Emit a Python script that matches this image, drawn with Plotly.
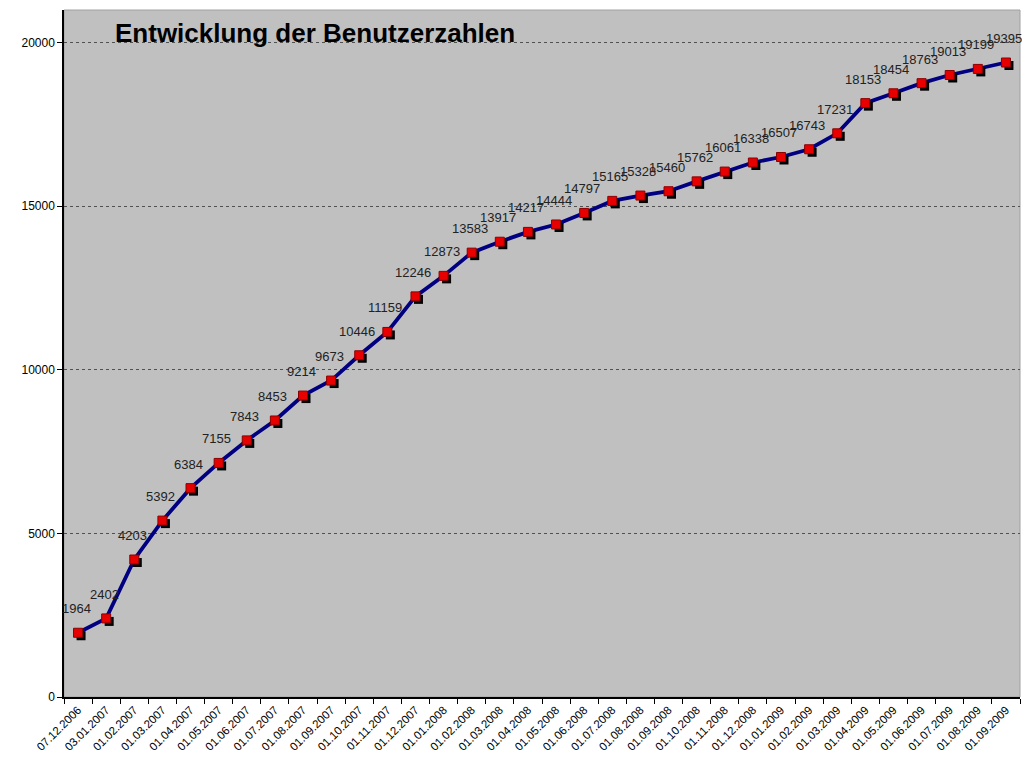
import plotly.graph_objects as go

# ---- data ----
dates = ["07.12.2006", "03.01.2007", "01.02.2007", "01.03.2007", "01.04.2007",
         "01.05.2007", "01.06.2007", "01.07.2007", "01.08.2007", "01.09.2007",
         "01.10.2007", "01.11.2007", "01.12.2007", "01.01.2008", "01.02.2008",
         "01.03.2008", "01.04.2008", "01.05.2008", "01.06.2008", "01.07.2008",
         "01.08.2008", "01.09.2008", "01.10.2008", "01.11.2008", "01.12.2008",
         "01.01.2009", "01.02.2009", "01.03.2009", "01.04.2009", "01.05.2009",
         "01.06.2009", "01.07.2009", "01.08.2009", "01.09.2009"]
users = [1964, 2402, 4203, 5392, 6384, 7155, 7843, 8453, 9214, 9673,
         10446, 11159, 12246, 12873, 13583, 13917, 14217, 14444, 14797, 15165,
         15328, 15460, 15762, 16061, 16338, 16507, 16743, 17231, 18153, 18454,
         18763, 19013, 19199, 19395]
y_ticks = [0, 5000, 10000, 15000, 20000]
title_text = "Entwicklung der Benutzerzahlen"

# ---- layout geometry (page body adds an 8px offset) ----
W, H = 1014, 751
ML, MR, MT, MB = 56, 2, 2, 62
Y_MAX = 21000
n = len(users)
plot_w = W - ML - MR
plot_h = H - MT - MB
px_x = n / plot_w            # data units per pixel (x)
px_y = Y_MAX / plot_h        # data units per pixel (y)
shadow = 3                   # shadow offset in px

xs = list(range(n))
FONT = "Liberation Sans, Arial, sans-serif"

fig = go.Figure()

# line
fig.add_trace(go.Scatter(
    x=xs, y=users, mode="lines",
    line=dict(color="#000080", width=3.8),
    hoverinfo="skip", showlegend=False))

# marker shadows
fig.add_trace(go.Scatter(
    x=[v + shadow * px_x for v in xs], y=[v - shadow * px_y for v in users],
    mode="markers",
    marker=dict(symbol="square", size=9, color="black"),
    hoverinfo="skip", showlegend=False))

# markers
fig.add_trace(go.Scatter(
    x=xs, y=users, mode="markers",
    marker=dict(symbol="square", size=9, color="#E80000",
                line=dict(color="#8B0000", width=1)),
    showlegend=False))

annotations = []
for xv, yv in zip(xs, users):
    annotations.append(dict(
        x=xv, y=yv, xref="x", yref="y", text=str(yv), showarrow=False,
        xanchor="center", yanchor="middle", xshift=-2, yshift=24,
        font=dict(family=FONT, size=13, color="#222222")))

annotations.append(dict(
    x=(113 - 8 - ML) / plot_w, y=(H - MB - (33 - 8)) / plot_h, xref="paper", yref="paper",
    text="<b>" + title_text + "</b>", showarrow=False,
    xanchor="left", yanchor="middle",
    font=dict(family=FONT, size=26, color="black")))

fig.update_layout(
    width=W, height=H,
    margin=dict(l=ML, r=MR, t=MT, b=MB),
    paper_bgcolor="white",
    plot_bgcolor="#C0C0C0",
    annotations=annotations,
    shapes=[dict(type="rect", xref="paper", yref="paper", x0=0, x1=1, y0=0, y1=1,
                 line=dict(color="#A0A0A0", width=1), layer="below")],
    xaxis=dict(
        range=[-0.5, n - 0.5],
        tickmode="array", tickvals=xs, ticktext=dates,
        tickangle=-45, ticks="", showgrid=False, zeroline=False,
        showline=True, linecolor="black", linewidth=1.5,
        tickfont=dict(family=FONT, size=11.5, color="black"),
        minor=dict(tickmode="linear", tick0=0.5, dtick=1, ticks="outside",
                   ticklen=5, tickcolor="black", showgrid=False),
    ),
    yaxis=dict(
        range=[0, Y_MAX], tickmode="array", tickvals=y_ticks,
        ticktext=[str(v) for v in y_ticks],
        ticks="outside", ticklen=5, tickcolor="black",
        showgrid=True, gridcolor="#505050", griddash="dot", gridwidth=1,
        zeroline=False, showline=True, linecolor="black", linewidth=1.5,
        tickfont=dict(family=FONT, size=12, color="black"),
    ),
)

fig.write_html("out.html")
